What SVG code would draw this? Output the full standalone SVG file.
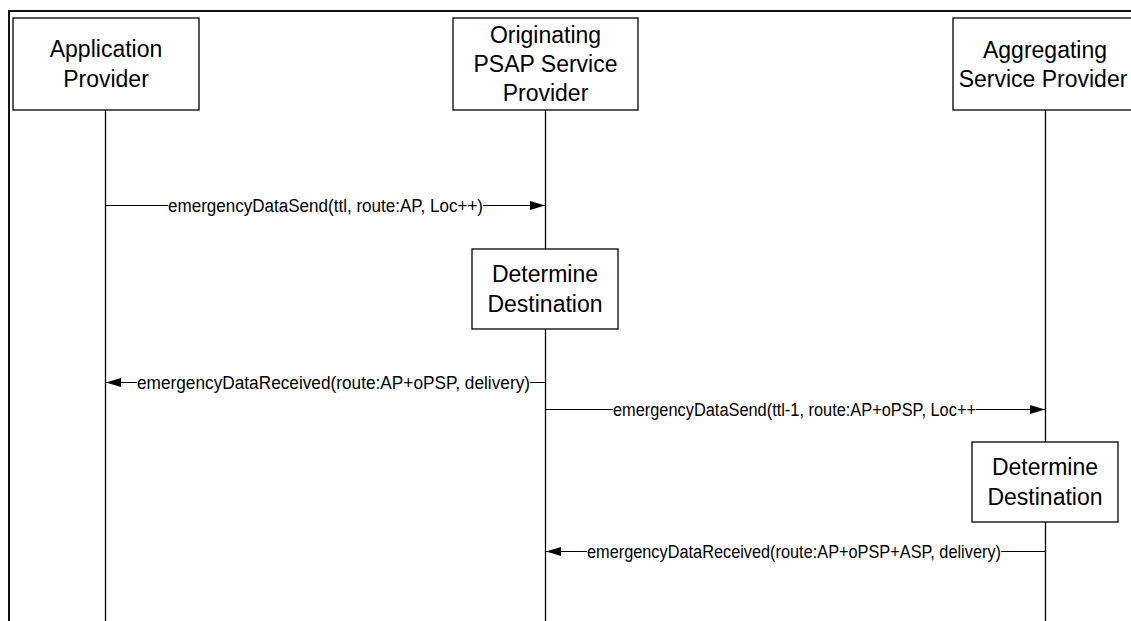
<svg xmlns="http://www.w3.org/2000/svg" width="1131" height="621" viewBox="0 0 1131 621">
<style>
  .box { fill: #ffffff; stroke: #000000; stroke-width: 1.3; }
  .life { stroke: #000000; stroke-width: 1.3; fill: none; }
  .msg { stroke: #000000; stroke-width: 1.2; fill: none; marker-end: url(#arrow); }
  .frame { stroke: #111111; stroke-width: 2; fill: none; }
  .t { font-family: "Liberation Sans", Arial, sans-serif; font-size: 23px; fill: #000000; text-anchor: middle; }
  .m { font-family: "Liberation Sans", Arial, sans-serif; font-size: 18px; fill: #000000; text-anchor: middle; }
  .bg { fill: #ffffff; stroke: none; }
</style>
<defs>
  <marker id="arrow" markerUnits="userSpaceOnUse" markerWidth="15" markerHeight="10" refX="15" refY="5" orient="auto">
    <path d="M0,0.6 L15,5 L0,9.4 Z" fill="#000000"/>
  </marker>
</defs>
<rect x="0" y="0" width="1131" height="621" fill="#ffffff"/>
<path class="frame" d="M9,621 V11 H1131"/>

<g id="lifelines">
  <line class="life" x1="105.5" y1="110" x2="105.5" y2="621"/>
  <line class="life" x1="545.5" y1="110" x2="545.5" y2="621"/>
  <line class="life" x1="1045.5" y1="110" x2="1045.5" y2="621"/>
</g>

<g id="node-ap">
  <rect class="box" x="13" y="18" width="186" height="92"/>
  <text class="t" x="106" y="57">Application</text>
  <text class="t" x="106" y="87">Provider</text>
</g>
<g id="node-opsp">
  <rect class="box" x="453" y="18" width="185" height="92"/>
  <text class="t" x="545.5" y="43">Originating</text>
  <text class="t" x="545.5" y="72">PSAP Service</text>
  <text class="t" x="545.5" y="101">Provider</text>
</g>
<g id="node-asp">
  <rect class="box" x="953" y="18" width="186" height="92"/>
  <text class="t" x="1045" y="58">Aggregating</text>
  <text class="t" x="1043" y="87">Service Provider</text>
</g>
<g id="node-dd1">
  <rect class="box" x="472" y="249" width="146" height="80"/>
  <text class="t" x="545" y="282">Determine</text>
  <text class="t" x="545" y="312">Destination</text>
</g>
<g id="node-dd2">
  <rect class="box" x="972" y="442" width="146" height="80"/>
  <text class="t" x="1045" y="475">Determine</text>
  <text class="t" x="1045" y="505">Destination</text>
</g>

<g id="connectors">
  <line class="msg" x1="105.5" y1="205.5" x2="545" y2="205.5"/>
  <rect class="bg" x="168" y="195" width="315" height="21"/>
  <text class="m" x="325.5" y="212" textLength="315" lengthAdjust="spacingAndGlyphs">emergencyDataSend(ttl, route:AP, Loc++)</text>

  <line class="msg" x1="545.5" y1="382.5" x2="106" y2="382.5"/>
  <rect class="bg" x="137" y="372" width="393" height="21"/>
  <text class="m" x="333.5" y="389" textLength="393" lengthAdjust="spacingAndGlyphs">emergencyDataReceived(route:AP+oPSP, delivery)</text>

  <line class="msg" x1="545.5" y1="409.5" x2="1045" y2="409.5"/>
  <rect class="bg" x="613" y="399" width="363" height="21"/>
  <text class="m" x="794.5" y="416" textLength="363" lengthAdjust="spacingAndGlyphs">emergencyDataSend(ttl-1, route:AP+oPSP, Loc++</text>

  <line class="msg" x1="1045.5" y1="551.5" x2="546" y2="551.5"/>
  <rect class="bg" x="587" y="541" width="414" height="21"/>
  <text class="m" x="794" y="558" textLength="414" lengthAdjust="spacingAndGlyphs">emergencyDataReceived(route:AP+oPSP+ASP, delivery)</text>
</g>
</svg>
